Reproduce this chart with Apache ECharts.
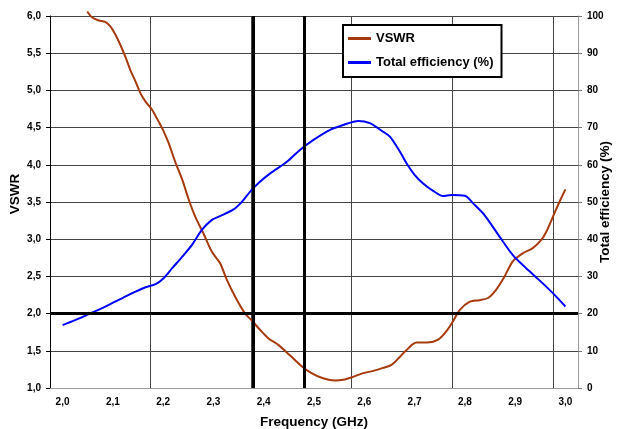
<!DOCTYPE html>
<html>
<head>
<meta charset="utf-8">
<script src="https://cdn.jsdelivr.net/npm/echarts@6/dist/echarts.min.js"></script>
<style>
  html, body { margin: 0; padding: 0; background: #fff; }
  #chart { width: 620px; height: 429px; }
</style>
</head>
<body>
<div id="chart"></div>
<script>
// VSWR curve (left axis)
var vswrFreq = [2.049,2.059,2.072,2.085,2.095,2.105,2.115,2.125,2.135,2.145,2.155,2.165,2.178,2.191,2.201,2.211,2.224,2.238,2.251,2.264,2.280,2.297,2.313,2.327,2.343,2.363,2.376,2.393,2.409,2.429,2.452,2.476,2.495,2.518,2.542,2.558,2.578,2.598,2.618,2.637,2.654,2.671,2.681,2.704,2.724,2.747,2.763,2.776,2.790,2.810,2.829,2.846,2.862,2.879,2.895,2.915,2.935,2.952,2.962,2.975,2.988,3.000];
var vswrValues = [6.06,5.98,5.94,5.92,5.86,5.75,5.61,5.45,5.27,5.12,4.96,4.85,4.74,4.58,4.45,4.29,4.04,3.80,3.53,3.30,3.08,2.83,2.68,2.45,2.23,2.00,1.91,1.78,1.67,1.58,1.44,1.29,1.20,1.13,1.10,1.11,1.15,1.20,1.23,1.27,1.31,1.42,1.49,1.61,1.61,1.65,1.76,1.89,2.05,2.16,2.18,2.21,2.32,2.50,2.70,2.81,2.88,2.99,3.10,3.30,3.50,3.67];

// total efficiency (%) curve (right axis)
var effFreq = [2.000,2.026,2.056,2.085,2.118,2.145,2.165,2.185,2.201,2.218,2.238,2.257,2.277,2.297,2.313,2.340,2.357,2.373,2.393,2.413,2.446,2.472,2.499,2.532,2.558,2.588,2.611,2.637,2.651,2.671,2.684,2.700,2.717,2.737,2.757,2.773,2.800,2.816,2.839,2.869,2.895,2.922,2.948,2.975,3.000];
var effValues = [16.9,18.3,20.1,21.9,24.1,25.9,27.1,27.9,29.5,32.2,35.3,38.4,42.5,45.2,46.2,48.0,50.1,52.8,55.5,57.7,60.8,64.0,66.7,69.4,70.7,71.8,71.2,68.9,67.6,63.5,60.4,57.3,55.0,53.0,51.6,51.9,51.7,49.7,46.5,40.7,35.8,32.2,29.0,25.5,21.9];

// axis labels, band edges, VSWR limit
var freqTicks = [2.0,2.1,2.2,2.3,2.4,2.5,2.6,2.7,2.8,2.9,3.0];
var bandEdges = [2.375, 2.475];
var vswrLimit = 2.0;

var seriesNames = ['VSWR', 'Total efficiency (%)'];

var chart = echarts.init(document.getElementById('chart'));

function pairs(xs, ys) {
    var out = [];
    for (var i = 0; i < xs.length; i++) {
        out.push([xs[i], ys[i]]);
    }
    return out;
}

function comma(v) {
    return v.toFixed(1).replace('.', ',');
}

var font = 'Liberation Sans, Arial, sans-serif';

var option = {
    animation: false,
    textStyle: { fontFamily: font },
    grid: { left: 50, right: 42, top: 16, bottom: 41, outerBoundsMode: 'none', containLabel: false },
    legend: {
        orient: 'vertical',
        left: 343,
        top: 25,
        padding: [7, 8, 8, 5],
        itemGap: 11,
        itemWidth: 23,
        itemHeight: 3,
        backgroundColor: '#fff',
        borderColor: '#000',
        borderWidth: 2,
        borderRadius: 0,
        textStyle: { fontSize: 13, fontWeight: 'bold', color: '#000', fontFamily: font },
        data: [
            { name: seriesNames[0], icon: 'rect' },
            { name: seriesNames[1], icon: 'rect' }
        ]
    },
    xAxis: {
        type: 'value',
        min: 1.975,
        max: 3.025,
        interval: 0.2,
        name: 'Frequency (GHz)',
        nameLocation: 'middle',
        nameGap: 27,
        nameMoveOverlap: false,
        nameTextStyle: { fontSize: 13.5, fontWeight: 'bold', color: '#000', fontFamily: font },
        axisLine: { show: true, lineStyle: { color: '#9a9a9a', width: 1 } },
        axisTick: { show: false },
        axisLabel: {
            customValues: freqTicks,
            margin: 9,
            fontSize: 10,
            fontWeight: 'bold',
            color: '#000',
            formatter: function (v) { return comma(v); }
        },
        splitLine: { show: true, lineStyle: { color: '#444', width: 1 } }
    },
    yAxis: [
        {
            type: 'value',
            min: 1,
            max: 6,
            interval: 0.5,
            name: 'VSWR',
            nameLocation: 'middle',
            nameGap: 28,
            nameMoveOverlap: false,
            nameTextStyle: { fontSize: 13.5, fontWeight: 'bold', color: '#000', fontFamily: font, padding: [0, 0, 0, 16] },
            axisLine: { show: true, lineStyle: { color: '#000', width: 1 } },
            axisTick: { show: true, inside: false, length: 4, lineStyle: { color: '#000' } },
            axisLabel: { margin: 9, fontSize: 10, fontWeight: 'bold', color: '#000', formatter: comma },
            splitLine: { show: true, lineStyle: { color: '#444', width: 1 } }
        },
        {
            type: 'value',
            min: 0,
            max: 100,
            interval: 10,
            position: 'right',
            name: 'Total efficiency (%)',
            nameLocation: 'middle',
            nameGap: 20,
            nameMoveOverlap: false,
            nameTextStyle: { fontSize: 13.5, fontWeight: 'bold', color: '#000', fontFamily: font },
            axisLine: { show: true, lineStyle: { color: '#9a9a9a', width: 1 } },
            axisTick: { show: true, inside: false, length: 4, lineStyle: { color: '#777' } },
            axisLabel: { margin: 9, fontSize: 10, fontWeight: 'bold', color: '#000' },
            splitLine: { show: false }
        }
    ],
    series: [
        {
            // thick reference lines (band edges + VSWR 2:1)
            type: 'line',
            data: [],
            z: 1,
            silent: true,
            markLine: {
                silent: true,
                symbol: ['none', 'none'],
                label: { show: false },
                lineStyle: { color: '#000', width: 3, type: 'solid' },
                data: [
                    { xAxis: bandEdges[0] },
                    { xAxis: bandEdges[1] },
                    { yAxis: vswrLimit }
                ]
            }
        },
        {
            name: seriesNames[0],
            type: 'line',
            yAxisIndex: 0,
            data: pairs(vswrFreq, vswrValues),
            symbol: 'none',
            smooth: 0.3,
            clip: false,
            z: 3,
            itemStyle: { color: '#A63A0C' },
            lineStyle: { color: '#A63A0C', width: 2 }
        },
        {
            name: seriesNames[1],
            type: 'line',
            yAxisIndex: 1,
            data: pairs(effFreq, effValues),
            symbol: 'none',
            smooth: 0.3,
            z: 3,
            itemStyle: { color: '#0000FF' },
            lineStyle: { color: '#0000FF', width: 2 }
        }
    ]
};

chart.setOption(option);
</script>
</body>
</html>
